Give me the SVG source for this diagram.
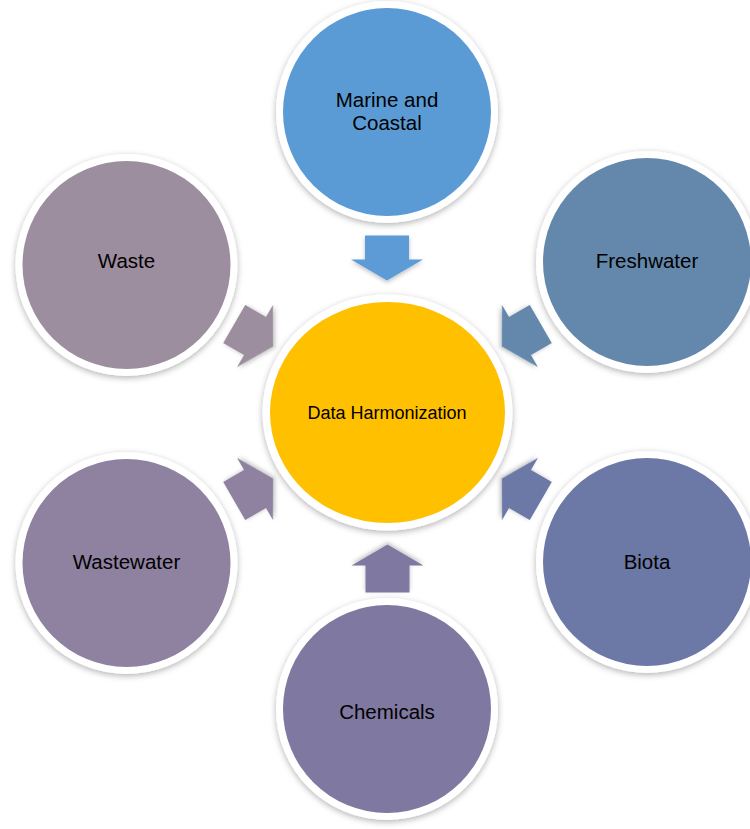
<svg xmlns="http://www.w3.org/2000/svg" width="750" height="829" viewBox="0 0 750 829">
<defs>
<filter id="sh" x="-20%" y="-20%" width="140%" height="140%">
<feDropShadow dx="0" dy="2" stdDeviation="3" flood-color="#000" flood-opacity="0.3"/>
</filter>
<filter id="ash" x="-30%" y="-30%" width="160%" height="160%">
<feDropShadow dx="0" dy="2" stdDeviation="2" flood-color="#000" flood-opacity="0.25"/>
</filter>
</defs>
<style>
.ring{fill:#fff;filter:url(#sh)}
.lbl{font-family:"Liberation Sans",Arial,sans-serif;font-size:20.5px;fill:#000;text-anchor:middle}
.clbl{font-family:"Liberation Sans",Arial,sans-serif;font-size:18px;fill:#000;text-anchor:middle}
.arr{filter:url(#ash)}
</style>
<rect width="750" height="829" fill="#fff"/>
<g id="connectors">
<polygon class="arr" fill="#5B9BD5" points="365,-177 365,-153 351,-153 387,-132 423,-153 409,-153 409,-177" transform="translate(0,412.5) rotate(0 387 0)"/>
<polygon class="arr" fill="#6488AC" points="-22,-177 -22,-153 -36,-153 0,-132 36,-153 22,-153 22,-177" transform="translate(387.5,412.5) rotate(60)"/>
<polygon class="arr" fill="#6C78A6" points="-22,-177 -22,-153 -36,-153 0,-132 36,-153 22,-153 22,-177" transform="translate(387.5,412.5) rotate(120)"/>
<polygon class="arr" fill="#7F78A0" points="-22,-180 -22,-153 -36,-153 0,-132 36,-153 22,-153 22,-180" transform="translate(387.5,412.5) rotate(180)"/>
<polygon class="arr" fill="#8F81A0" points="-22,-177 -22,-153 -36,-153 0,-132 36,-153 22,-153 22,-177" transform="translate(387.5,412.5) rotate(240)"/>
<polygon class="arr" fill="#9D8E9F" points="-22,-177 -22,-153 -36,-153 0,-132 36,-153 22,-153 22,-177" transform="translate(387.5,412.5) rotate(300)"/>
</g>
<g id="node-marine">
<circle class="ring" cx="387" cy="112" r="111"/>
<circle cx="387" cy="112" r="104" fill="#5B9BD5"/>
<text class="lbl" x="387" y="107">Marine and</text>
<text class="lbl" x="387" y="130">Coastal</text>
</g>
<g id="node-freshwater">
<circle class="ring" cx="647" cy="262" r="111"/>
<circle cx="647" cy="262" r="104" fill="#6488AC"/>
<text class="lbl" x="647" y="268">Freshwater</text>
</g>
<g id="node-biota">
<circle class="ring" cx="647" cy="562" r="111"/>
<circle cx="647" cy="562" r="104" fill="#6C78A6"/>
<text class="lbl" x="647" y="569">Biota</text>
</g>
<g id="node-chemicals">
<circle class="ring" cx="387" cy="709" r="111"/>
<circle cx="387" cy="709" r="104" fill="#7F78A0"/>
<text class="lbl" x="387" y="719">Chemicals</text>
</g>
<g id="node-wastewater">
<circle class="ring" cx="126.5" cy="563" r="111"/>
<circle cx="126.5" cy="563" r="104" fill="#8F81A0"/>
<text class="lbl" x="126.5" y="569">Wastewater</text>
</g>
<g id="node-waste">
<circle class="ring" cx="126.5" cy="265" r="111"/>
<circle cx="126.5" cy="265" r="104" fill="#9D8E9F"/>
<text class="lbl" x="126.5" y="268">Waste</text>
</g>
<g id="node-center">
<ellipse class="ring" cx="387.5" cy="412.5" rx="125" ry="118"/>
<ellipse cx="387.5" cy="412.5" rx="117.5" ry="110.5" fill="#FFC000"/>
<text class="clbl" x="387" y="419">Data Harmonization</text>
</g>
</svg>
